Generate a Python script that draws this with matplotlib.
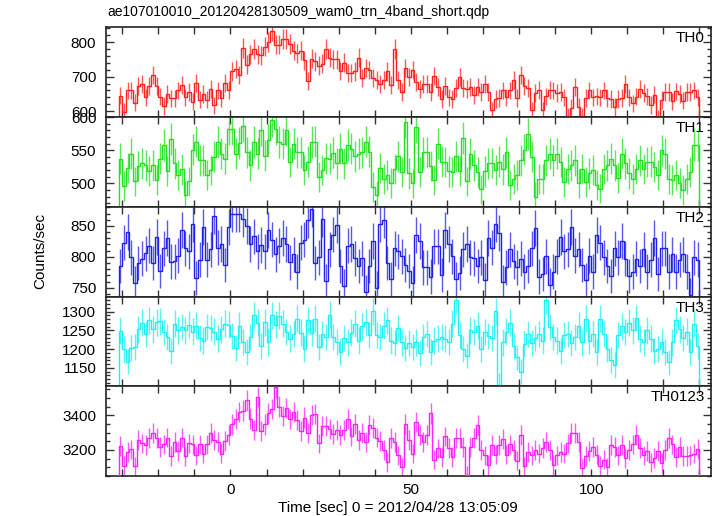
import numpy as np
import matplotlib
matplotlib.use('Agg')
import matplotlib.pyplot as plt
from matplotlib.ticker import MultipleLocator

# Data: 1-s bins starting at t = -31 s (161 bins)
t_start = -31
bin_width = 1.0

th0 = [645, 598, 660, 660, 625, 672, 678, 640, 672, 705,
       672, 642, 615, 650, 637, 637, 660, 675, 640, 655,
       627, 683, 633, 650, 633, 665, 617, 660, 637, 683,
       662, 715, 722, 705, 783, 735, 765, 780, 765, 762,
       787, 800, 833, 793, 793, 810, 810, 795, 775, 768,
       775, 748, 688, 752, 745, 732, 738, 780, 755, 750,
       750, 717, 740, 710, 710, 715, 755, 695, 725, 720,
       695, 690, 680, 690, 715, 675, 780, 690, 655, 725,
       700, 720, 685, 665, 678, 678, 655, 702, 670, 635,
       672, 640, 635, 668, 700, 668, 665, 670, 647, 670,
       655, 678, 655, 602, 635, 638, 660, 640, 660, 690,
       638, 704, 672, 668, 602, 652, 662, 602, 643, 662,
       660, 653, 655, 640, 585, 610, 670, 612, 585, 638,
       660, 640, 643, 640, 660, 638, 635, 612, 635, 638,
       680, 640, 623, 642, 665, 653, 643, 618, 648, 580,
       632, 655, 655, 628, 657, 650, 630, 655, 655, 660,
       640]

th1 = [537, 496, 523, 545, 503, 526, 530, 527, 519, 527,
       505, 537, 558, 519, 567, 530, 512, 521, 482, 503,
       551, 563, 535, 535, 512, 520, 540, 562, 545, 537,
       582, 582, 545, 561, 587, 547, 527, 562, 545, 581,
       542, 565, 595, 582, 562, 560, 581, 532, 560, 547,
       547, 520, 533, 562, 563, 510, 520, 538, 537, 546,
       530, 552, 530, 558, 552, 541, 545, 547, 563, 548,
       495, 482, 523, 506, 513, 501, 522, 541, 517, 593,
       515, 500, 585, 517, 547, 547, 526, 505, 560, 533,
       532, 518, 517, 541, 519, 568, 503, 545, 527, 517,
       491, 518, 530, 531, 520, 533, 521, 547, 498, 507,
       512, 535, 551, 575, 540, 480, 506, 507, 535, 545,
       535, 545, 532, 502, 522, 527, 535, 500, 522, 502,
       515, 520, 498, 492, 522, 527, 537, 527, 508, 545,
       530, 515, 506, 522, 535, 522, 532, 533, 525, 512,
       550, 545, 507, 505, 512, 501, 490, 507, 517, 558,
       558]

th2 = [785, 823, 840, 799, 757, 790, 797, 806, 818, 790,
       832, 777, 814, 830, 792, 793, 802, 843, 814, 809,
       853, 766, 795, 848, 795, 812, 866, 815, 821, 787,
       848, 870, 869, 869, 861, 850, 821, 833, 809, 819,
       809, 844, 828, 804, 818, 830, 821, 791, 804, 776,
       823, 828, 859, 878, 790, 799, 861, 761, 812, 836,
       851, 785, 753, 818, 821, 798, 785, 798, 743, 785,
       826, 749, 853, 859, 790, 764, 814, 809, 801, 787,
       777, 757, 835, 826, 783, 783, 768, 817, 817, 771,
       843, 821, 801, 764, 774, 812, 821, 799, 798, 785,
       799, 763, 830, 815, 853, 839, 759, 783, 812, 793,
       783, 797, 776, 785, 814, 846, 768, 772, 801, 755,
       776, 801, 832, 809, 812, 848, 802, 812, 787, 763,
       802, 776, 835, 823, 799, 785, 769, 814, 799, 826,
       797, 769, 776, 797, 785, 812, 776, 795, 830, 772,
       814, 814, 776, 804, 776, 795, 804, 776, 739, 799,
       795]

th3 = [1249, 1201, 1167, 1202, 1205, 1253, 1271, 1241, 1277, 1253,
       1272, 1274, 1246, 1232, 1196, 1268, 1250, 1259, 1250, 1265,
       1247, 1263, 1229, 1223, 1259, 1256, 1247, 1228, 1253, 1268,
       1265, 1235, 1202, 1263, 1220, 1192, 1232, 1290, 1271, 1209,
       1272, 1218, 1290, 1265, 1289, 1268, 1246, 1228, 1241, 1281,
       1244, 1201, 1277, 1244, 1281, 1205, 1241, 1232, 1292, 1232,
       1220, 1192, 1229, 1218, 1244, 1268, 1223, 1261, 1272, 1238,
       1301, 1238, 1232, 1263, 1277, 1223, 1217, 1256, 1218, 1202,
       1217, 1205, 1218, 1190, 1232, 1241, 1193, 1223, 1228, 1232,
       1228, 1220, 1268, 1331, 1237, 1201, 1183, 1250, 1246, 1263,
       1201, 1246, 1235, 1229, 1301, 1104, 1218, 1247, 1271, 1209,
       1178, 1140, 1214, 1241, 1217, 1229, 1241, 1223, 1331, 1259,
       1232, 1223, 1196, 1238, 1241, 1217, 1232, 1263, 1218, 1281,
       1223, 1241, 1193, 1281, 1241, 1201, 1172, 1158, 1237, 1261,
       1246, 1271, 1250, 1283, 1228, 1218, 1250, 1228, 1196, 1201,
       1220, 1192, 1165, 1218, 1277, 1253, 1229, 1247, 1192, 1268,
       1209]

th0123 = [3222, 3110, 3189, 3203, 3106, 3258, 3238, 3228, 3268, 3298,
          3268, 3219, 3232, 3272, 3165, 3248, 3193, 3272, 3163, 3238,
          3232, 3169, 3232, 3179, 3232, 3298, 3258, 3248, 3179, 3252,
          3288, 3347, 3377, 3417, 3427, 3486, 3377, 3318, 3506, 3312,
          3347, 3411, 3436, 3561, 3450, 3397, 3442, 3377, 3417, 3371,
          3308, 3387, 3298, 3403, 3407, 3238, 3337, 3337, 3323, 3292,
          3318, 3288, 3318, 3377, 3278, 3351, 3258, 3298, 3244, 3343,
          3327, 3272, 3252, 3199, 3129, 3268, 3248, 3169, 3100, 3351,
          3258, 3179, 3363, 3288, 3248, 3288, 3411, 3145, 3209, 3159,
          3278, 3213, 3159, 3268, 3268, 3219, 3054, 3219, 3268, 3343,
          3199, 3169, 3114, 3228, 3173, 3228, 3264, 3173, 3232, 3199,
          3139, 3284, 3106, 3189, 3169, 3199, 3179, 3213, 3248, 3199,
          3114, 3169, 3189, 3179, 3238, 3298, 3298, 3248, 3094, 3165,
          3193, 3219, 3173, 3110, 3145, 3100, 3228, 3219, 3169, 3228,
          3153, 3199, 3232, 3288, 3213, 3169, 3193, 3129, 3153, 3193,
          3125, 3199, 3268, 3232, 3159, 3219, 3165, 3165, 3169, 3179,
          3205]

labels = ['TH0', 'TH1', 'TH2', 'TH3', 'TH0123']
colors = ['#ff2020', '#20e020', '#2020e8', '#20f0f0', '#ff20ff']
ylims = [(583, 844), (464.5, 600), (735.5, 880.6), (1102, 1339.7), (3050, 3569)]
ymajor = [100, 50, 50, 50, 200]
yminor = [20, 10, 10, 10, 50]

series = [th0, th1, th2, th3, th0123]

plt.rcParams['font.family'] = ['Liberation Sans', 'DejaVu Sans']

fig = plt.figure(figsize=(7.17, 5.16), dpi=100)
W, H = 717, 516
left, right = 106, 711
tops = [27, 117, 207, 296.7, 386, 476]

axes = []
for i in range(5):
    y0 = tops[i]
    y1 = tops[i + 1]
    ax = fig.add_axes([left / W, 1 - y1 / H, (right - left) / W, (y1 - y0) / H])
    vals = np.array(series[i], dtype=float)
    edges = t_start + bin_width * np.arange(len(vals) + 1)
    centers = 0.5 * (edges[:-1] + edges[1:])
    err = np.sqrt(vals * bin_width) / bin_width

    ax.errorbar(centers, vals, yerr=err, fmt='none', ecolor=colors[i],
                elinewidth=1.0, alpha=0.75, zorder=2)
    ax.stairs(vals, edges, color=colors[i], linewidth=1.0, zorder=3)

    ax.set_xlim(-34.5, 133.2)
    ax.set_ylim(*ylims[i])
    ax.xaxis.set_major_locator(MultipleLocator(50))
    ax.xaxis.set_minor_locator(MultipleLocator(10))
    ax.yaxis.set_major_locator(MultipleLocator(ymajor[i]))
    ax.yaxis.set_minor_locator(MultipleLocator(yminor[i]))
    ax.tick_params(which='both', direction='in', top=True, right=True,
                   labelsize=11, width=1.0, color='#333333')
    ax.tick_params(axis='y', which='major', length=6, pad=7)
    ax.tick_params(axis='y', which='minor', length=3)
    ax.tick_params(axis='x', which='both', length=5, pad=5)
    if i < 4:
        ax.tick_params(axis='x', labelbottom=False)
    for sp in ax.spines.values():
        sp.set_linewidth(1.2)
        sp.set_color('#222222')

    ax.text(0.99, 0.955, labels[i], transform=ax.transAxes,
            ha='right', va='top', fontsize=11)
    axes.append(ax)

fig.text(107 / W, 1 - 12 / H, 'ae107010010_20120428130509_wam0_trn_4band_short.qdp',
         ha='left', va='center', fontsize=10)
fig.text(40 / W, 1 - 251 / H, 'Counts/sec', rotation=90,
         ha='center', va='center', fontsize=11)
fig.text(398 / W, 1 - 508 / H, 'Time [sec] 0 = 2012/04/28 13:05:09',
         ha='center', va='center', fontsize=11)

fig.savefig('out.png', dpi=100)
